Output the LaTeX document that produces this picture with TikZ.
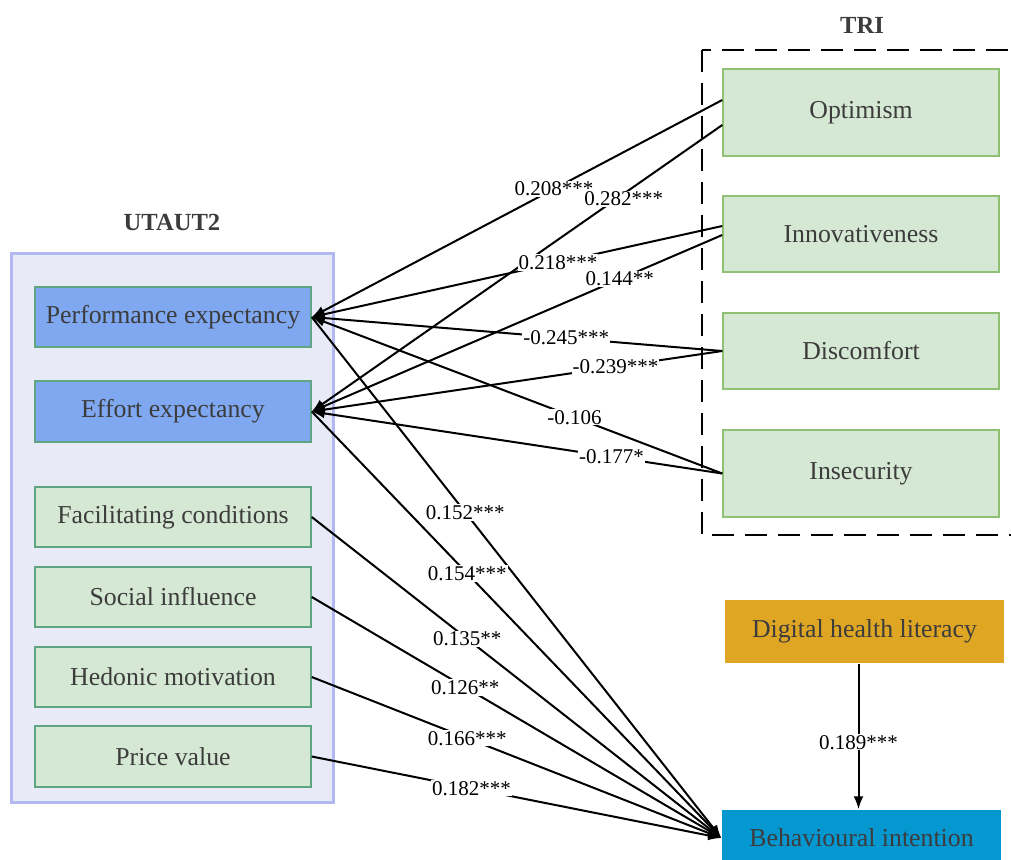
\documentclass[tikz,border=0pt]{standalone}
\usepackage{fontspec}
\setmainfont{Liberation Serif}
\usetikzlibrary{arrows.meta}
\definecolor{utfill}{HTML}{E8EAF8}
\definecolor{utdraw}{HTML}{B1B8F2}
\definecolor{blfill}{HTML}{7FA8F1}
\definecolor{grfill}{HTML}{D5E8D4}
\definecolor{grdraw}{HTML}{8FC073}
\definecolor{tldraw}{HTML}{5FA583}
\definecolor{orfill}{HTML}{DFA623}
\definecolor{cyfill}{HTML}{0597D0}
\definecolor{txtgray}{HTML}{3C3C3C}
\tikzset{
  box/.style={rectangle, inner sep=0pt, minimum width=276pt, minimum height=60pt,
    line width=1.5pt, text=txtgray, font=\fontsize{25.8}{30}\selectfont},
  utblue/.style={box, draw=tldraw, fill=blfill},
  utgreen/.style={box, draw=tldraw, fill=grfill},
  trigreen/.style={box, draw=grdraw, fill=grfill},
  title/.style={inner sep=0pt, text=txtgray, font=\fontsize{24.6}{28}\selectfont\bfseries},
  effect/.style={draw, line width=2pt, -{Latex[length=13pt,width=10pt]}},
  coef/.style={fill=white, inner sep=1pt, font=\fontsize{21}{24}\selectfont}
}
\begin{document}
\begin{tikzpicture}[x=1pt,y=-1pt]
\useasboundingbox (0,0) rectangle (1011,859);

% UTAUT2 group
\draw[utdraw, fill=utfill, line width=3pt] (11,253) rectangle (333,802);
\node[title] (utaut) at (172,222) {UTAUT2};
\node[utblue] (pe) at (173,317) {Performance expectancy};
\node[utblue, minimum height=61pt] (ee) at (173,411.5) {Effort expectancy};
\node[utgreen] (fc) at (173,517) {Facilitating conditions};
\node[utgreen] (si) at (173,597) {Social influence};
\node[utgreen] (hm) at (173,677) {Hedonic motivation};
\node[utgreen, minimum height=61pt] (pv) at (173,756.5) {Price value};

% TRI group
\draw[line width=2.5pt, dash pattern=on 22pt off 11pt] (702,50) rectangle (1030,535);
\node[title] (tri) at (862,25) {TRI};
\node[trigreen, minimum height=87pt] (opt) at (861,112.5) {Optimism};
\node[trigreen, minimum height=76pt] (inn) at (861,234) {Innovativeness};
\node[trigreen, minimum height=76pt] (dis) at (861,351) {Discomfort};
\node[trigreen, minimum height=87pt] (ins) at (861,473.5) {Insecurity};

% outcome side
\node[box, fill=orfill, minimum width=279pt, minimum height=63pt] (dhl) at (864.5,631.5) {Digital health literacy};
\node[box, fill=cyfill, minimum width=279pt, minimum height=56pt] (bi) at (861.5,838) {Behavioural intention};

% TRI -> UTAUT2
\draw[effect] ([yshift=12.5pt]opt.west) -- (pe.east) node[coef, pos=0.41] {0.208***};
\draw[effect] ([yshift=-12.5pt]opt.west) -- (ee.east) node[coef, pos=0.24, yshift=-5pt] {0.282***};
\draw[effect] ([yshift=8pt]inn.west) -- (pe.east) node[coef, pos=0.4] {0.218***};
\draw[effect] ([yshift=-1pt]inn.west) -- (ee.east) node[coef, pos=0.25] {0.144**};
\draw[effect] (dis.west) -- (pe.east) node[coef, pos=0.38] {-0.245***};
\draw[effect] (dis.west) -- (ee.east) node[coef, pos=0.26] {-0.239***};
\draw[effect] (ins.west) -- (pe.east) node[coef, pos=0.36] {-0.106};
\draw[effect] (ins.west) -- (ee.east) node[coef, pos=0.27] {-0.177*};

% UTAUT2 -> behavioural intention
\draw[effect] (pe.east) -- (bi.west) node[coef, pos=0.375] {0.152***};
\draw[effect] (ee.east) -- (bi.west) node[coef, pos=0.38] {0.154***};
\draw[effect] (fc.east) -- (bi.west) node[coef, pos=0.38] {0.135**};
\draw[effect] (si.east) -- (bi.west) node[coef, pos=0.375] {0.126**};
\draw[effect] (hm.east) -- (bi.west) node[coef, pos=0.38] {0.166***};
\draw[effect] (pv.east) -- (bi.west) node[coef, pos=0.39] {0.182***};

% digital health literacy -> behavioural intention
\draw[effect] ([xshift=-6pt]dhl.south) -- ([xshift=-3pt]bi.north) node[coef, pos=0.54] {0.189***};
\end{tikzpicture}
\end{document}
